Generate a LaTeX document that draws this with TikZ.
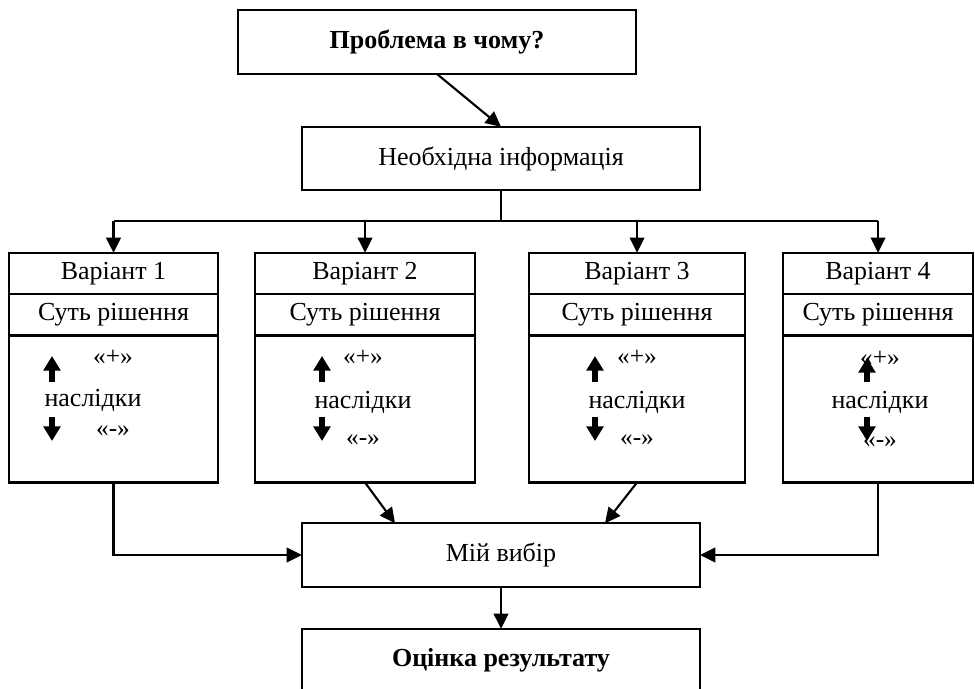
\documentclass[tikz,border=0pt]{standalone}
\usepackage{fontspec}
\setmainfont{Liberation Serif}
\usetikzlibrary{arrows.meta,positioning,calc}

\begin{document}
\begin{tikzpicture}[x=0.75pt,y=-0.75pt,>={Triangle[length=11.5pt,width=11pt]},line width=1.6pt,
      box/.style={draw,outer sep=0pt,inner sep=2pt,minimum width=298.5pt,minimum height=47.5pt,font=\fontsize{19.5}{22}\selectfont},
      boldbox/.style={box,font=\fontsize{19.5}{22}\selectfont\bfseries},
      vrow/.style={draw,outer sep=0pt,inner sep=0pt,minimum height=31pt,font=\fontsize{19.5}{22}\selectfont},
      vbody/.style={draw,outer sep=0pt,inner sep=0pt,minimum height=110.25pt},
      txt/.style={inner sep=0pt,font=\fontsize{19.5}{22}\selectfont},
      sgn/.style={inner sep=0pt,font=\fontsize{19}{20}\selectfont},
      fat/.style={line width=4.5pt,-{Triangle[length=11pt,width=12.5pt]}}]
    \clip (0,0) rectangle (975,689);
    \node[boldbox,minimum height=48pt] (problem) at (437,42) {Проблема в чому?};
    \node[box] (info)   at (501,158.5) {Необхідна інформація};
    \node[box] (choice) at (501,555)   {Мій вибір};
    \node[boldbox] (result) at (501,660.5) {Оцінка результату};
    % variant 1
    \node[vrow,minimum width=156.75pt] (v1) at (113.5,273.5) {Варіант 1};
    \node[vrow,minimum width=156.75pt,below=0pt of v1] (s1) {Суть рішення};
    \node[vbody,minimum width=156.75pt,below=0pt of s1] (c1) {};
    \node[sgn] (p1) at (113,357) {«+»};
    \node[txt] (n1) at (93,400) {наслідки};
    \node[sgn] (m1) at (113,431) {«-»};
    \draw[fat] (52,382) -- (52,356);
    \draw[fat] (52,417) -- (52,441);
    % variant 2
    \node[vrow,minimum width=165pt] (v2) at (365,273.5) {Варіант 2};
    \node[vrow,minimum width=165pt,below=0pt of v2] (s2) {Суть рішення};
    \node[vbody,minimum width=165pt,below=0pt of s2] (c2) {};
    \node[sgn] (p2) at (363,357) {«+»};
    \node[txt] (n2) at (363,402) {наслідки};
    \node[sgn] (m2) at (363,440) {«-»};
    \draw[fat] (322,382) -- (322,356);
    \draw[fat] (322,417) -- (322,441);
    % variant 3
    \node[vrow,minimum width=162pt] (v3) at (637,273.5) {Варіант 3};
    \node[vrow,minimum width=162pt,below=0pt of v3] (s3) {Суть рішення};
    \node[vbody,minimum width=162pt,below=0pt of s3] (c3) {};
    \node[sgn] (p3) at (637,357) {«+»};
    \node[txt] (n3) at (637,402) {наслідки};
    \node[sgn] (m3) at (637,440) {«-»};
    \draw[fat] (595,382) -- (595,356);
    \draw[fat] (595,417) -- (595,441);
    % variant 4
    \node[vrow,minimum width=142.5pt] (v4) at (878,273.5) {Варіант 4};
    \node[vrow,minimum width=142.5pt,below=0pt of v4] (s4) {Суть рішення};
    \node[vbody,minimum width=142.5pt,below=0pt of s4] (c4) {};
    \node[sgn] (p4) at (880,358) {«+»};
    \node[txt] (n4) at (880,402) {наслідки};
    \node[sgn] (m4) at (880,442) {«-»};
    \draw[fat] (867,382) -- (867,358);
    \draw[fat] (867,417) -- (867,441);
    % connectors
    \coordinate (split) at (501,221);
    \draw[->] (problem.south) -- (info.north);
    \draw (info.south) -- (split);
    \draw (v1.north |- split) -- (v4.north |- split);
    \draw[->] (v1.north |- split) -- (v1.north);
    \draw[->] (v2.north |- split) -- (v2.north);
    \draw[->] (v3.north |- split) -- (v3.north);
    \draw[->] (v4.north |- split) -- (v4.north);
    \draw[->] (c1.south) |- (choice.west);
    \draw[->] (c2.south) -- ($(choice.north)+(-106,0)$);
    \draw[->] (c3.south) -- ($(choice.north)+(104,0)$);
    \draw[->] (c4.south) |- (choice.east);
    \draw[->] (choice.south) -- (result.north);
  \end{tikzpicture}
\end{document}
